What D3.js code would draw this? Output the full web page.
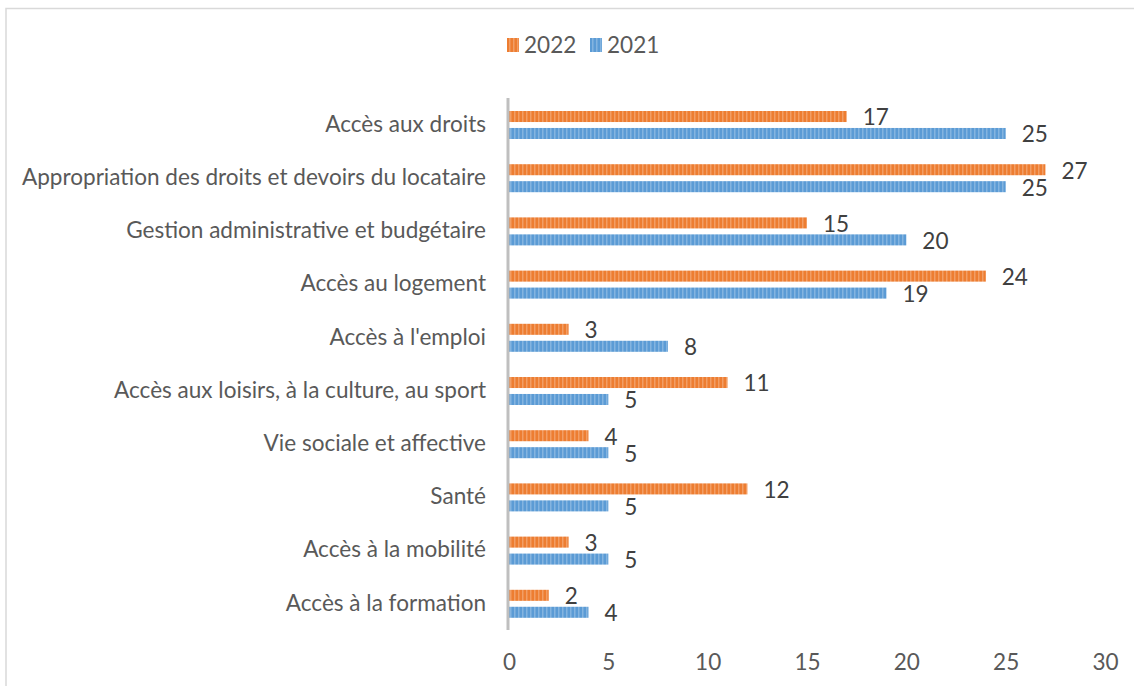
<!DOCTYPE html>
<html>
<head>
<meta charset="utf-8">
<script src="https://cdn.jsdelivr.net/npm/d3@7"></script>
<style>
  body { margin: 0; background: #fff; }
  svg { display: block; }
</style>
</head>
<body>
<div id="chart"></div>
<script>
const categories = [
  "Accès aux droits",
  "Appropriation des droits et devoirs du locataire",
  "Gestion administrative et budgétaire",
  "Accès au logement",
  "Accès à l'emploi",
  "Accès aux loisirs, à la culture, au sport",
  "Vie sociale et affective",
  "Santé",
  "Accès à la mobilité",
  "Accès à la formation"
]
const values2022 = [17, 27, 15, 24, 3, 11, 4, 12, 3, 2]
const values2021 = [25, 25, 20, 19, 8, 5, 5, 5, 5, 4]
const xTicks = [0, 5, 10, 15, 20, 25, 30]
const seriesNames = ["2022", "2021"]

const W = 1134, H = 686
const font = "Lato, 'Open Sans', sans-serif"
const colors = { "2022": "#ED7D31", "2021": "#5B9BD5" }

const svg = d3.select("#chart").append("svg")
  .attr("width", W).attr("height", H)

// find a font size so the longest label is as wide as in the original (~464px)
const probe = svg.append("text").style("font-family", font).style("font-size", "20px")
  .text(categories[1])
const fs = 20 * 464 / probe.node().getComputedTextLength()
probe.remove()
const fsize = fs.toFixed(2) + "px"

// striped fills
const defs = svg.append("defs")
seriesNames.forEach(name => {
  const p = defs.append("pattern")
    .attr("id", "pat" + name)
    .attr("patternUnits", "userSpaceOnUse")
    .attr("width", 4).attr("height", 4)
  p.append("rect").attr("width", 4).attr("height", 4).attr("fill", colors[name])
  p.append("rect").attr("x", 2).attr("width", 1.5).attr("height", 4)
    .attr("fill", "#fff").attr("opacity", 0.25)
})

// chart border (top and left visible)
svg.append("path")
  .attr("d", `M6,${H} L6,8.5 L${W},8.5`)
  .attr("fill", "none").attr("stroke", "#d9d9d9").attr("stroke-width", 1.5)

const x = d3.scaleLinear().domain([0, 30]).range([509, 1105])
const y = d3.scaleBand().domain(categories).range([98, 630])
const inner = d3.scaleBand().domain(seriesNames).range([13, 41]).paddingInner(0.35)

// x axis labels
const xAxis = svg.append("g")
  .attr("transform", "translate(0,662)")
  .call(d3.axisBottom(x).tickValues(xTicks).tickSize(0).tickPadding(0))
xAxis.select(".domain").remove()
xAxis.selectAll("text")
  .attr("dy", "0.35em")
  .style("font-family", font).style("font-size", fsize).attr("fill", "#595959")

// category labels
const yAxis = svg.append("g")
  .attr("transform", "translate(486,0)")
  .call(d3.axisLeft(y).tickSize(0).tickPadding(0))
yAxis.select(".domain").remove()
yAxis.selectAll("text")
  .style("font-family", font).style("font-size", fsize).attr("fill", "#595959")

// bars
const rows = svg.append("g").selectAll("g")
  .data(categories)
  .join("g")
  .attr("transform", d => `translate(0,${y(d)})`)

const seriesData = { "2022": values2022, "2021": values2021 }
seriesNames.forEach(name => {
  rows.append("rect")
    .attr("x", x(0))
    .attr("y", inner(name))
    .attr("width", (d, i) => x(seriesData[name][i]) - x(0))
    .attr("height", inner.bandwidth())
    .attr("fill", `url(#pat${name})`)
  rows.append("text")
    .attr("x", (d, i) => x(seriesData[name][i]) + 16)
    .attr("y", inner(name) + inner.bandwidth() / 2 + 1)
    .attr("dy", "0.35em")
    .style("font-family", font).style("font-size", fsize).attr("fill", "#404040")
    .text((d, i) => seriesData[name][i])
})

// vertical axis line
svg.append("line")
  .attr("x1", x(0) - 1).attr("x2", x(0) - 1)
  .attr("y1", 98).attr("y2", 630)
  .attr("stroke", "#bfbfbf").attr("stroke-width", 3)

// legend
const legend = svg.append("g").attr("transform", "translate(507,45)")
const legendItems = legend.selectAll("g").data(seriesNames).join("g")
  .attr("transform", (d, i) => `translate(${i * 83},0)`)
legendItems.append("rect")
  .attr("x", 0).attr("y", -7).attr("width", 12).attr("height", 14)
  .attr("fill", d => `url(#pat${d})`)
legendItems.append("text")
  .attr("x", 17).attr("dy", "0.35em")
  .style("font-family", font).style("font-size", fsize).attr("fill", "#595959")
  .text(d => d)
</script>
</body>
</html>
